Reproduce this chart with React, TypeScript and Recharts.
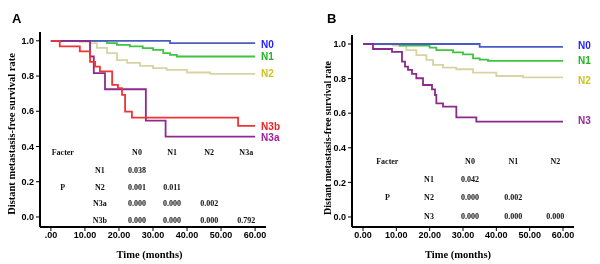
import React from 'react';
import { LineChart, Line, XAxis, YAxis, ReferenceDot } from 'recharts';

const SANS = '"Liberation Sans", Arial, sans-serif';
const SERIF = '"Liberation Serif", "Times New Roman", serif';

// ---- panel A (N stage with N3a / N3b split) ----
const aN0Months = [0, 35, 60];
const aN0Surv = [1, 0.987, 0.987];
const aN1Months = [0, 16.5, 19.4, 23.2, 27, 30, 33, 35, 37, 60];
const aN1Surv = [1, 0.987, 0.977, 0.968, 0.958, 0.949, 0.93, 0.92, 0.911, 0.911];
const aN2Months = [0, 8.5, 11.5, 13.5, 16.5, 19.4, 22.4, 26.2, 30, 34, 40, 46.8, 60];
const aN2Surv = [1, 0.994, 0.987, 0.96, 0.93, 0.89, 0.875, 0.858, 0.845, 0.835, 0.82, 0.812, 0.812];
const aN3aMonths = [0, 11.5, 12.6, 15.9, 27.9, 33.7, 60];
const aN3aSurv = [1, 0.911, 0.816, 0.725, 0.547, 0.456, 0.456];
const aN3bMonths = [0, 2.6, 8.5, 11.5, 13, 14.4, 18, 19.7, 20.9, 21.8, 23.8, 55, 60];
const aN3bSurv = [1, 0.968, 0.94, 0.88, 0.854, 0.826, 0.75, 0.731, 0.693, 0.598, 0.564, 0.517, 0.517];

const aTableCols = ['N0', 'N1', 'N2', 'N3a'];
const aTableRows = ['N1', 'N2', 'N3a', 'N3b'];
const aPValues = [
  ['0.038'],
  ['0.001', '0.011'],
  ['0.000', '0.000', '0.002'],
  ['0.000', '0.000', '0.000', '0.792'],
];

// ---- panel B (N0-N3) ----
const bN0Months = [0, 35, 60];
const bN0Surv = [1, 0.983, 0.983];
const bN1Months = [0, 11, 20, 22, 27, 30, 33, 35, 37.5, 60];
const bN1Surv = [1, 0.99, 0.979, 0.965, 0.952, 0.94, 0.917, 0.91, 0.902, 0.902];
const bN2Months = [0, 5, 9, 13, 16, 19, 21, 24, 28, 33, 40, 48, 60];
const bN2Surv = [1, 0.998, 0.99, 0.965, 0.936, 0.908, 0.879, 0.863, 0.854, 0.834, 0.815, 0.807, 0.807];
const bN3Months = [0, 3, 8.7, 11.7, 12.6, 13.5, 14.7, 16, 18, 20.7, 21.6, 22, 24, 28, 34, 60];
const bN3Surv = [1, 0.971, 0.955, 0.898, 0.869, 0.85, 0.827, 0.802, 0.763, 0.738, 0.705, 0.657, 0.638, 0.576, 0.551, 0.551];

const bTableCols = ['N0', 'N1', 'N2'];
const bTableRows = ['N1', 'N2', 'N3'];
const bPValues = [['0.042'], ['0.000', '0.002'], ['0.000', '0.000', '0.000']];

const xTicks = [0, 10, 20, 30, 40, 50, 60];
const yTicks = [0, 0.2, 0.4, 0.6, 0.8, 1.0];

const zip = (t: number[], v: number[]) => t.map((m, i) => ({ t: m, v: v[i] }));

interface Series {
  name: string;
  data: { t: number; v: number }[];
  line: string;
  text: string;
  dy: number;
}

interface PanelCfg {
  letter: string;
  letterX: number;
  series: Series[];
  cols: string[];
  rows: string[];
  pvals: string[][];
  xDomain: [number, number];
  yDomain: [number, number];
  top: number;
  right: number;
  yWidth: number;
  xFmt: (v: number) => string;
  xLabelDx: number;
  yTitleX: number;
  yTitleY: number;
  yTitleSize: number;
  legendOffset: number;
  // table placement in data space
  factorX: number;
  rowLabelX: number;
  colX: number[];
  headerY: number;
  rowY: number[];
  pY: number;
}

const panelA: PanelCfg = {
  letter: 'A',
  letterX: 12,
  series: [
    { name: 'N2', data: zip(aN2Months, aN2Surv), line: '#d8d3a2', text: '#cdc41c', dy: 0 },
    { name: 'N1', data: zip(aN1Months, aN1Surv), line: '#3fc43f', text: '#22b522', dy: 0 },
    { name: 'N0', data: zip(aN0Months, aN0Surv), line: '#4a5cc4', text: '#1f1fff', dy: 1.5 },
    { name: 'N3a', data: zip(aN3aMonths, aN3aSurv), line: '#8e2a8e', text: '#a01ca0', dy: 0.5 },
    { name: 'N3b', data: zip(aN3bMonths, aN3bSurv), line: '#f03434', text: '#ee2020', dy: 1 },
  ],
  cols: aTableCols,
  rows: aTableRows,
  pvals: aPValues,
  xDomain: [-3.2, 63.2],
  yDomain: [-0.057, 1.05],
  top: 32,
  right: 34,
  yWidth: 40,
  xFmt: (v) => (v === 0 ? '.00' : v.toFixed(2)),
  xLabelDx: -3.5,
  yTitleX: 11,
  yTitleY: 134,
  yTitleSize: 10.5,
  legendOffset: 6,
  factorX: 3.5,
  rowLabelX: 14.4,
  colX: [25.3, 35.6, 46.5, 57.4],
  headerY: 0.369,
  rowY: [0.267, 0.17, 0.08, -0.017],
  pY: 0.172,
};

const panelB: PanelCfg = {
  letter: 'B',
  letterX: 27,
  series: [
    { name: 'N2', data: zip(bN2Months, bN2Surv), line: '#d8d3a2', text: '#cdc41c', dy: 3 },
    { name: 'N1', data: zip(bN1Months, bN1Surv), line: '#3fc43f', text: '#22b522', dy: 0 },
    { name: 'N0', data: zip(bN0Months, bN0Surv), line: '#4a5cc4', text: '#1f1fff', dy: -1 },
    { name: 'N3', data: zip(bN3Months, bN3Surv), line: '#8a2a8a', text: '#9a2a9a', dy: -1.5 },
  ],
  cols: bTableCols,
  rows: bTableRows,
  pvals: bPValues,
  xDomain: [-3.3, 63.3],
  yDomain: [-0.058, 1.052],
  top: 35,
  right: 26,
  yWidth: 52,
  xFmt: (v) => v.toFixed(2),
  xLabelDx: -5,
  yTitleX: 27,
  yTitleY: 138,
  yTitleSize: 10,
  legendOffset: 15,
  factorX: 7.3,
  rowLabelX: 19.8,
  colX: [32.1, 45.1, 57.7],
  headerY: 0.325,
  rowY: [0.22, 0.114, 0.0075],
  pY: 0.114,
};

const tableText = (key: string, x: number, y: number, value: string) => (
  <ReferenceDot
    key={key}
    x={x}
    y={y}
    r={0}
    fill="none"
    stroke="none"
    ifOverflow="visible"
    label={{ value, position: 'center', fill: '#111', fontSize: 8, fontWeight: 700, fontFamily: SERIF }}
  />
);

function Panel({ cfg }: { cfg: PanelCfg }) {
  const tableMarks: React.ReactNode[] = [];
  tableMarks.push(tableText('facter', cfg.factorX, cfg.headerY, 'Facter'));
  tableMarks.push(tableText('p', cfg.factorX, cfg.pY, 'P'));
  cfg.cols.forEach((c, i) => tableMarks.push(tableText('col' + i, cfg.colX[i], cfg.headerY, c)));
  cfg.rows.forEach((r, i) => {
    tableMarks.push(tableText('row' + i, cfg.rowLabelX, cfg.rowY[i], r));
    cfg.pvals[i].forEach((p, j) => tableMarks.push(tableText(`p${i}-${j}`, cfg.colX[j], cfg.rowY[i], p)));
  });

  return (
    <div style={{ position: 'relative', width: 300, height: 264 }}>
      <LineChart width={300} height={264} margin={{ top: cfg.top, right: cfg.right, left: 0, bottom: 0 }}>
        <XAxis
          type="number"
          dataKey="t"
          domain={cfg.xDomain}
          allowDataOverflow
          ticks={xTicks}
          interval={0}
          tickFormatter={cfg.xFmt}
          height={37}
          axisLine={{ stroke: '#000', strokeWidth: 2 }}
          tickLine={{ stroke: '#000' }}
          tickSize={4}
          tickMargin={1}
          tick={{ fill: '#000', fontSize: 9, fontWeight: 700, fontFamily: SANS }}
          label={{
            value: 'Time (months)',
            position: 'insideBottom',
            offset: 6,
            dx: cfg.xLabelDx,
            fill: '#000',
            fontSize: 10.5,
            fontWeight: 700,
            fontFamily: SERIF,
          }}
        />
        <YAxis
          type="number"
          domain={cfg.yDomain}
          allowDataOverflow
          ticks={yTicks}
          interval={0}
          tickFormatter={(v: number) => v.toFixed(1)}
          width={cfg.yWidth}
          axisLine={{ stroke: '#000', strokeWidth: 2 }}
          tickLine={{ stroke: '#000' }}
          tickSize={4}
          tickMargin={2}
          tick={{ fill: '#000', fontSize: 9, fontWeight: 700, fontFamily: SANS }}
        />
        {cfg.series.map((s) => (
          <Line
            key={s.name}
            data={s.data}
            dataKey="v"
            type="stepAfter"
            stroke={s.line}
            strokeWidth={1.8}
            dot={false}
            activeDot={false}
            isAnimationActive={false}
          />
        ))}
        {cfg.series.map((s) => (
          <ReferenceDot
            key={'lbl' + s.name}
            x={s.data[s.data.length - 1].t}
            y={s.data[s.data.length - 1].v}
            r={0}
            fill="none"
            stroke="none"
            ifOverflow="visible"
            label={{
              value: s.name,
              position: 'right',
              offset: cfg.legendOffset,
              dy: s.dy,
              fill: s.text,
              fontSize: 10,
              fontWeight: 700,
              fontFamily: SANS,
            }}
          />
        ))}
        {tableMarks}
      </LineChart>
      <svg width={300} height={264} style={{ position: 'absolute', left: 0, top: 0, pointerEvents: 'none' }}>
        <text x={cfg.letterX} y={23} fontSize={13} fontWeight={700} fontFamily={SANS} fill="#000">
          {cfg.letter}
        </text>
        <text
          x={cfg.yTitleX}
          y={cfg.yTitleY}
          transform={`rotate(-90, ${cfg.yTitleX}, ${cfg.yTitleY})`}
          textAnchor="middle"
          dominantBaseline="central"
          fontSize={cfg.yTitleSize}
          fontWeight={700}
          fontFamily={SERIF}
          fill="#000"
        >
          Distant metastasis-free survival rate
        </text>
      </svg>
    </div>
  );
}

export default function App() {
  return (
    <div
      style={{
        position: 'absolute',
        left: 0,
        top: 0,
        width: 600,
        height: 264,
        display: 'flex',
        background: '#fff',
        willChange: 'transform',
      }}
    >
      <Panel cfg={panelA} />
      <Panel cfg={panelB} />
    </div>
  );
}
